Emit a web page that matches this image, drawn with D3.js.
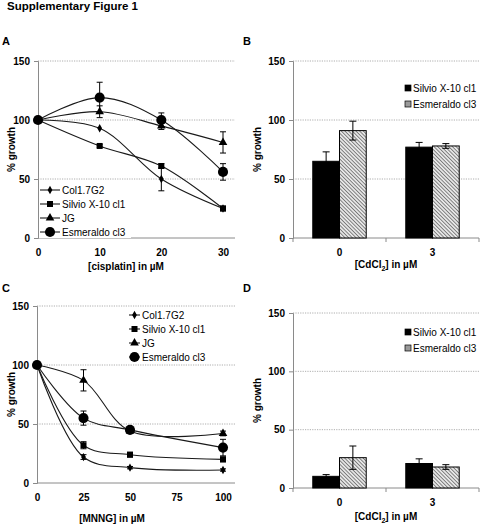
<!DOCTYPE html>
<html><head><meta charset="utf-8">
<script src="https://cdn.jsdelivr.net/npm/d3@7"></script>
<style>body{margin:0;background:#fff}svg{display:block;font-family:"Liberation Sans",Arial,sans-serif}</style>
</head><body>
<svg id="c" width="480" height="524"></svg>
<script>
// ---- data ----
const lineSeries = ["Col1.7G2", "Silvio X-10 cl1", "JG", "Esmeraldo cl3"];
const markers = ["diamond", "square", "triangle", "circle"];
const cisplatinDoses = [0, 10, 20, 30];
const cisplatinTicks = [0, 10, 20, 30];
const cisCol = [100, 93, 50, 25];
const cisColErr = [0, 0, 10, 1];
const cisSilvio = [100, 78, 61, 25];
const cisSilvioErr = [0, 1, 2, 2];
const cisJG = [100, 107, 95, 81];
const cisJGErr = [0, 5, 3, 9];
const cisEsm = [100, 119, 100, 56];
const cisEsmErr = [0, 13, 6, 7];

const mnngDoses = [0, 25, 50, 100];
const mnngTicks = [0, 25, 50, 75, 100];
const mnngCol = [100, 22, 13, 11];
const mnngColErr = [0, 2, 1, 1];
const mnngSilvio = [100, 32, 24, 20];
const mnngSilvioErr = [0, 3, 2, 2];
const mnngJG = [100, 87, 44, 42];
const mnngJGErr = [0, 9, 1, 2];
const mnngEsm = [100, 55, 45, 30];
const mnngEsmErr = [0, 6, 1, 7];

const barSeries = ["Silvio X-10 cl1", "Esmeraldo cl3"];
const cdDoses = ["0", "3"];
const bSilvio = [65, 77];
const bSilvioErr = [8, 4];
const bEsm = [91, 78];
const bEsmErr = [8, 2];
const dSilvio = [10, 21];
const dSilvioErr = [1.5, 4];
const dEsm = [26, 18];
const dEsmErr = [10, 2];

const yTicks = [0, 50, 100, 150];

// ---- drawing ----
const FONT = "Liberation Sans, Arial, sans-serif";
const svg = d3.select("#c");
const defs = svg.append("defs");
const pat = defs.append("pattern").attr("id", "hatch").attr("patternUnits", "userSpaceOnUse")
  .attr("width", 2.6).attr("height", 2.6).attr("patternTransform", "rotate(-45)");
pat.append("rect").attr("width", 2.6).attr("height", 2.6).attr("fill", "#e6e6e6");
pat.append("line").attr("x1", 0).attr("y1", 0).attr("x2", 0).attr("y2", 2.6)
  .attr("stroke", "#505050").attr("stroke-width", 1.3);

svg.append("text").attr("x", 7).attr("y", 10).attr("font-size", 11.5).attr("font-weight", "bold")
  .text("Supplementary Figure 1");

const AX = "#8a8a8a";

function yAxisPanel(g, y, left, right, tx) {
  g.selectAll(".grid").data(yTicks.filter(t => t > 0)).join("line")
    .attr("x1", left).attr("x2", right).attr("y1", d => y(d)).attr("y2", d => y(d))
    .attr("stroke", "#9a9a9a").attr("stroke-dasharray", "1.2,1.2").attr("stroke-width", 0.8);
  const ax = g.append("g").attr("transform", `translate(${left},0)`)
    .call(d3.axisLeft(y).tickValues(yTicks).tickSize(4).tickPadding(4));
  ax.select(".domain").attr("stroke", AX);
  ax.selectAll(".tick line").attr("stroke", AX);
  ax.selectAll("text").attr("font-size", 10).attr("font-weight", "bold")
    .attr("font-family", FONT).attr("fill", "#000");
  g.append("text").attr("transform", `translate(${tx},${(y(0) + y(150)) / 2}) rotate(-90)`)
    .attr("text-anchor", "middle").attr("font-size", 10).attr("font-weight", "bold").text("% growth");
}

function markerPath(type) {
  const sym = {diamond: d3.symbolDiamond, square: d3.symbolSquare, triangle: d3.symbolTriangle, circle: d3.symbolCircle}[type];
  const size = {diamond: 20, square: 36, triangle: 32, circle: 80}[type];
  return d3.symbol(sym, size)();
}

function linePanel(opt) {
  const g = svg.append("g");
  const x = d3.scaleLinear().domain([0, opt.xmax]).range([opt.left, opt.xend]);
  const y = d3.scaleLinear().domain([0, 150]).range([opt.bottom, opt.top]);
  yAxisPanel(g, y, opt.left, opt.right, opt.ytx);
  const xa = g.append("g").attr("transform", `translate(0,${opt.bottom})`)
    .call(d3.axisBottom(x).tickValues(opt.ticks).tickSize(0).tickPadding(opt.tickPad));
  xa.select(".domain").attr("stroke", AX).attr("d", `M${opt.left},0H${opt.right}`);
  xa.selectAll("text").attr("font-size", 10).attr("font-weight", "bold")
    .attr("font-family", FONT).attr("fill", "#000");
  g.append("text").attr("x", opt.xtx).attr("y", opt.xty).attr("text-anchor", "middle")
    .attr("font-size", 10).attr("font-weight", "bold").text(opt.xtitle);
  g.append("text").attr("x", opt.labx).attr("y", opt.laby).attr("font-size", 11).attr("font-weight", "bold").text(opt.label);

  const line = d3.line().x((d, i) => x(opt.doses[i])).y(d => y(d)).curve(d3.curveCatmullRom.alpha(0.5));
  opt.series.forEach((vals) => {
    g.append("path").attr("d", line(vals)).attr("fill", "none").attr("stroke", "#1a1a1a").attr("stroke-width", 1.1);
  });
  opt.series.forEach((vals, si) => {
    const errs = opt.errs[si];
    vals.forEach((v, i) => {
      if (errs[i] > 0) {
        const cx = x(opt.doses[i]);
        g.append("path").attr("d", `M${cx},${y(v - errs[i])}V${y(v + errs[i])}M${cx - 3},${y(v - errs[i])}H${cx + 3}M${cx - 3},${y(v + errs[i])}H${cx + 3}`)
          .attr("stroke", "#000").attr("stroke-width", 1).attr("fill", "none");
      }
      g.append("path").attr("transform", `translate(${x(opt.doses[i])},${y(v)})`).attr("d", markerPath(markers[si])).attr("fill", "#000");
    });
  });
  const lg = g.append("g");
  lineSeries.forEach((name, i) => {
    const ly = opt.legY + i * opt.legDy;
    if (opt.legBg) lg.append("rect").attr("x", opt.legX - 1).attr("y", ly - 6).attr("width", 92).attr("height", 12).attr("fill", "#fff");
    lg.append("line").attr("x1", opt.legX).attr("x2", opt.legX + opt.legLen).attr("y1", ly).attr("y2", ly).attr("stroke", "#1a1a1a").attr("stroke-width", 1.1);
    lg.append("path").attr("transform", `translate(${opt.legX + opt.legLen / 2},${ly})`).attr("d", markerPath(markers[i])).attr("fill", "#000");
    lg.append("text").attr("x", opt.legX + opt.legLen + 2).attr("y", ly + 3.5).attr("font-size", 10).text(name);
  });
}

function barPanel(opt) {
  const g = svg.append("g");
  const x0 = d3.scaleBand().domain(cdDoses).range([opt.left, opt.right]).padding(0);
  const x1 = d3.scaleBand().domain(barSeries).range([0, x0.bandwidth()]).paddingInner(0).paddingOuter(0.74);
  const y = d3.scaleLinear().domain([0, 150]).range([opt.bottom, opt.top]);
  yAxisPanel(g, y, opt.left, opt.right, opt.ytx);
  const xa = g.append("g").attr("transform", `translate(0,${opt.bottom})`)
    .call(d3.axisBottom(x0).tickSize(0).tickPadding(11));
  xa.select(".domain").attr("stroke", AX).attr("d", `M${opt.left},0H${opt.right}`);
  xa.selectAll("text").attr("font-size", 10).attr("font-weight", "bold")
    .attr("font-family", FONT).attr("fill", "#000");
  g.selectAll(".bt").data([opt.left, x0(cdDoses[1]), opt.right]).join("line")
    .attr("x1", d => d).attr("x2", d => d).attr("y1", opt.bottom).attr("y2", opt.bottom + 4).attr("stroke", AX);
  const xt = g.append("text").attr("x", (opt.left + opt.right) / 2).attr("y", opt.xty).attr("text-anchor", "middle")
    .attr("font-size", 10).attr("font-weight", "bold");
  xt.append("tspan").text("[CdCl");
  xt.append("tspan").attr("font-size", 7).attr("dy", 3).text("2");
  xt.append("tspan").attr("dy", -3).text("] in µM");
  g.append("text").attr("x", opt.labx).attr("y", opt.laby).attr("font-size", 11).attr("font-weight", "bold").text(opt.label);

  const fills = ["#000", "url(#hatch)"];
  opt.vals.forEach((vals, si) => {
    vals.forEach((v, i) => {
      const bx = x0(cdDoses[i]) + x1(barSeries[si]);
      g.append("rect").attr("x", bx).attr("y", y(v)).attr("width", x1.bandwidth()).attr("height", y(0) - y(v))
        .attr("fill", fills[si]).attr("stroke", "#000").attr("stroke-width", 1);
    });
  });
  opt.vals.forEach((vals, si) => {
    vals.forEach((v, i) => {
      const cx = x0(cdDoses[i]) + x1(barSeries[si]) + x1.bandwidth() / 2;
      const e = opt.errs[si][i];
      g.append("path").attr("d", `M${cx},${y(v - e)}V${y(v + e)}M${cx - 3.5},${y(v - e)}H${cx + 3.5}M${cx - 3.5},${y(v + e)}H${cx + 3.5}`)
        .attr("stroke", "#000").attr("stroke-width", 1).attr("fill", "none");
    });
  });
  barSeries.forEach((name, i) => {
    const ly = opt.legY + i * 16;
    g.append("rect").attr("x", opt.legX).attr("y", ly - 3).attr("width", 6).attr("height", 6)
      .attr("fill", i === 0 ? "#000" : "#9a9a9a").attr("stroke", "#000").attr("stroke-width", 0.7);
    g.append("text").attr("x", opt.legX + 8).attr("y", ly + 3.5).attr("font-size", 10).text(name);
  });
}

linePanel({
  doses: cisplatinDoses, ticks: cisplatinTicks, xmax: 30, left: 38, xend: 223, right: 235, top: 61, bottom: 238,
  series: [cisCol, cisSilvio, cisJG, cisEsm], errs: [cisColErr, cisSilvioErr, cisJGErr, cisEsmErr],
  ytx: 15, xtx: 126, xty: 270, tickPad: 11, xtitle: "[cisplatin] in µM", label: "A", labx: 2, laby: 45,
  legX: 40, legY: 190, legDy: 14, legLen: 20, legBg: true
});
linePanel({
  doses: mnngDoses, ticks: mnngTicks, xmax: 100, left: 37, xend: 223, right: 235, top: 306, bottom: 483,
  series: [mnngCol, mnngSilvio, mnngJG, mnngEsm], errs: [mnngColErr, mnngSilvioErr, mnngJGErr, mnngEsmErr],
  ytx: 15, xtx: 112, xty: 522, tickPad: 11, xtitle: "[MNNG] in µM", label: "C", labx: 2, laby: 292,
  legX: 129, legY: 315, legDy: 14, legLen: 11, legBg: false
});
barPanel({
  left: 293, right: 479, top: 61, bottom: 238, vals: [bSilvio, bEsm], errs: [bSilvioErr, bEsmErr],
  ytx: 261, xty: 268, label: "B", labx: 243, laby: 45, legX: 405, legY: 88
});
barPanel({
  left: 293, right: 479, top: 313, bottom: 488, vals: [dSilvio, dEsm], errs: [dSilvioErr, dEsmErr],
  ytx: 261, xty: 520, label: "D", labx: 243, laby: 292, legX: 405, legY: 332
});
</script>
</body></html>
